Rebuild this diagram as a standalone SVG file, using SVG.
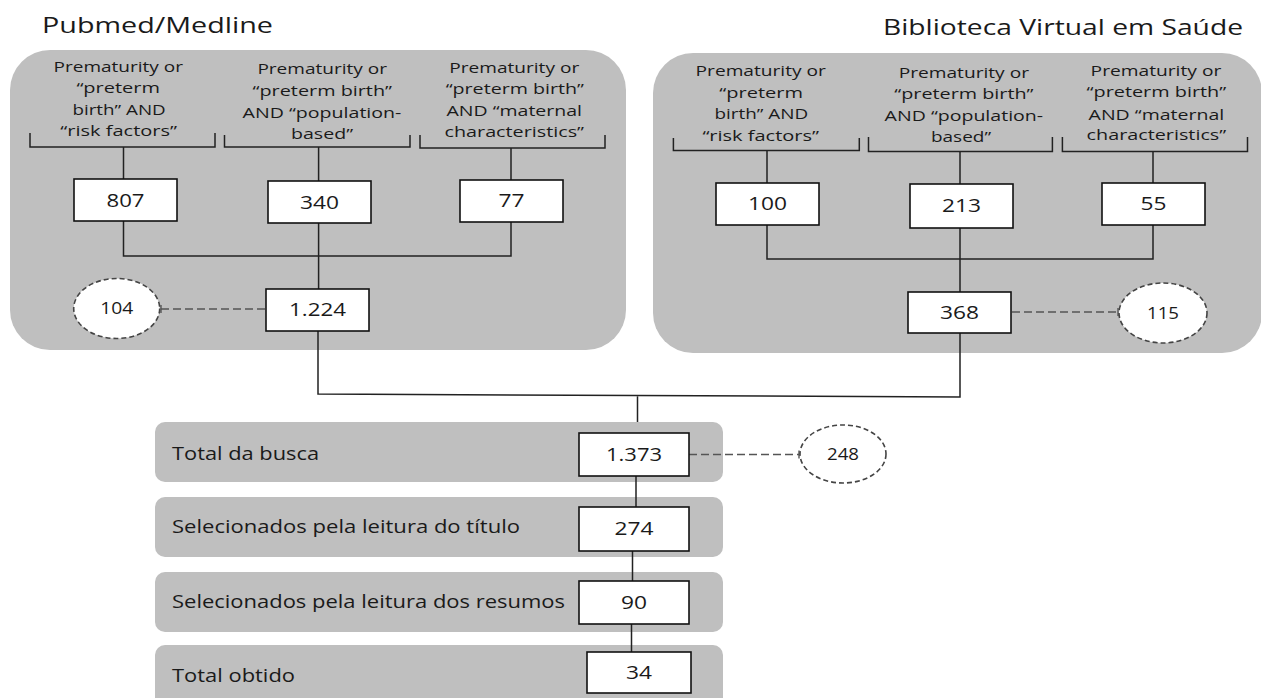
<svg xmlns="http://www.w3.org/2000/svg" width="1261" height="698" viewBox="0 0 1261 698">
<style>
text{font-family:"Open Sans","DejaVu Sans",sans-serif;fill:#1a1a1a}
.title{font-size:22px}
.q{font-size:14px}
.bar{font-size:18px}
.num{font-size:18.5px;text-anchor:middle}
.enum{font-size:15.5px;text-anchor:middle}
.panel{fill:#bfbfbf}
.barbg{fill:#bfbfbf}
.box{fill:#fff;stroke:#111;stroke-width:1.6}
.ell{fill:#fff;stroke:#444;stroke-width:1.6;stroke-dasharray:5 3}
.ln{fill:none;stroke:#222;stroke-width:1.5}
.dash{fill:none;stroke:#555;stroke-width:1.6;stroke-dasharray:8 4}
.tick{stroke:#555;stroke-width:1.4}
</style>
<rect width="1261" height="698" fill="#fff"/>

<g id="title-pubmed"><text class="title" x="42" y="33" textLength="231" lengthAdjust="spacingAndGlyphs">Pubmed/Medline</text></g>
<g id="title-bvs"><text class="title" x="883" y="35" textLength="360" lengthAdjust="spacingAndGlyphs">Biblioteca Virtual em Saúde</text></g>

<g id="panel-pubmed"><rect class="panel" x="10" y="50" width="616" height="300" rx="40"/></g>
<g id="panel-bvs"><rect class="panel" x="653" y="53" width="609" height="300" rx="40"/></g>

<g id="bar-total-busca"><rect class="barbg" x="155" y="422" width="568" height="60" rx="10"/><text class="bar" x="172" y="460" textLength="147" lengthAdjust="spacingAndGlyphs">Total da busca</text></g>
<g id="bar-titulo"><rect class="barbg" x="155" y="497" width="568" height="60" rx="10"/><text class="bar" x="172" y="533" textLength="348" lengthAdjust="spacingAndGlyphs">Selecionados pela leitura do título</text></g>
<g id="bar-resumos"><rect class="barbg" x="155" y="572" width="568" height="60" rx="10"/><text class="bar" x="172" y="608" textLength="393" lengthAdjust="spacingAndGlyphs">Selecionados pela leitura dos resumos</text></g>
<g id="bar-obtido"><rect class="barbg" x="155" y="645" width="568" height="70" rx="10"/><text class="bar" x="172" y="682" textLength="123" lengthAdjust="spacingAndGlyphs">Total obtido</text></g>

<g id="connectors">
  <!-- left brackets -->
  <path class="ln" d="M30 133V147H215V133M123.5 147V179"/>
  <path class="ln" d="M224.5 135V147H410V135M318.6 147V181"/>
  <path class="ln" d="M420 135V148H605V135M511 148V180"/>
  <!-- right brackets -->
  <path class="ln" d="M673.4 138V150.5H859.3V138M767 150.5V183"/>
  <path class="ln" d="M868.5 137V151.5H1052.4V137M960 151.5V184"/>
  <path class="ln" d="M1062.4 137V151.5H1247.5V137M1153 151.5V183"/>
  <!-- left merge -->
  <path class="ln" d="M123.5 221V256H511V222M318.6 223V289"/>
  <!-- right merge -->
  <path class="ln" d="M767 225V259H1153V225M960 228V292"/>
  <!-- to total -->
  <path class="ln" d="M318 331V394L960 397V333M637.5 395.5V422"/>
  <path class="ln" d="M636 476V507M632.5 551V581M631.5 624V652"/>
  <!-- dashed exclusions -->
  <path class="dash" d="M161 309H265"/>
  <path class="tick" d="M161 305V313"/>
  <path class="dash" d="M1012 312H1118"/>
  <path class="tick" d="M1118 308V316"/>
  <path class="dash" d="M689 454.5H799"/>
  <path class="tick" d="M799 450.5V458.5"/>
</g>

<g id="q-pm-1">
  <text class="q" x="53.5" y="72" textLength="129.5" lengthAdjust="spacingAndGlyphs">Prematurity or</text>
  <text class="q" x="76.4" y="93" textLength="83.6" lengthAdjust="spacingAndGlyphs">“preterm</text>
  <text class="q" x="72.4" y="115" textLength="93.3" lengthAdjust="spacingAndGlyphs">birth” AND</text>
  <text class="q" x="60.3" y="136" textLength="116.7" lengthAdjust="spacingAndGlyphs">“risk factors”</text>
</g>
<g id="q-pm-2">
  <text class="q" x="257.4" y="74" textLength="129.6" lengthAdjust="spacingAndGlyphs">Prematurity or</text>
  <text class="q" x="252.6" y="95.5" textLength="139.4" lengthAdjust="spacingAndGlyphs">“preterm birth”</text>
  <text class="q" x="242.6" y="117.5" textLength="158.8" lengthAdjust="spacingAndGlyphs">AND “population-</text>
  <text class="q" x="291" y="139" textLength="62" lengthAdjust="spacingAndGlyphs">based”</text>
</g>
<g id="q-pm-3">
  <text class="q" x="449.3" y="72.5" textLength="129.9" lengthAdjust="spacingAndGlyphs">Prematurity or</text>
  <text class="q" x="445.7" y="94" textLength="138.3" lengthAdjust="spacingAndGlyphs">“preterm birth”</text>
  <text class="q" x="446.5" y="115.5" textLength="135.5" lengthAdjust="spacingAndGlyphs">AND “maternal</text>
  <text class="q" x="444.5" y="137" textLength="139.5" lengthAdjust="spacingAndGlyphs">characteristics”</text>
</g>
<g id="q-bvs-1">
  <text class="q" x="695.6" y="76" textLength="130.3" lengthAdjust="spacingAndGlyphs">Prematurity or</text>
  <text class="q" x="719.3" y="97.5" textLength="83.7" lengthAdjust="spacingAndGlyphs">“preterm</text>
  <text class="q" x="714.5" y="119" textLength="93.7" lengthAdjust="spacingAndGlyphs">birth” AND</text>
  <text class="q" x="702.4" y="141" textLength="116.6" lengthAdjust="spacingAndGlyphs">“risk factors”</text>
</g>
<g id="q-bvs-2">
  <text class="q" x="898.7" y="77.5" textLength="130.3" lengthAdjust="spacingAndGlyphs">Prematurity or</text>
  <text class="q" x="894.3" y="99" textLength="139.2" lengthAdjust="spacingAndGlyphs">“preterm birth”</text>
  <text class="q" x="884.6" y="121" textLength="158.5" lengthAdjust="spacingAndGlyphs">AND “population-</text>
  <text class="q" x="931" y="142" textLength="60" lengthAdjust="spacingAndGlyphs">based”</text>
</g>
<g id="q-bvs-3">
  <text class="q" x="1090.6" y="75.5" textLength="130.7" lengthAdjust="spacingAndGlyphs">Prematurity or</text>
  <text class="q" x="1086.6" y="97" textLength="139.6" lengthAdjust="spacingAndGlyphs">“preterm birth”</text>
  <text class="q" x="1088.6" y="119.5" textLength="135.6" lengthAdjust="spacingAndGlyphs">AND “maternal</text>
  <text class="q" x="1086.6" y="140" textLength="139.6" lengthAdjust="spacingAndGlyphs">characteristics”</text>
</g>

<g id="n-807"><rect class="box" x="74" y="179" width="103" height="42"/><text class="num" x="125.5" y="207" textLength="38" lengthAdjust="spacingAndGlyphs">807</text></g>
<g id="n-340"><rect class="box" x="268" y="181" width="103" height="42"/><text class="num" x="319.5" y="208.5" textLength="39" lengthAdjust="spacingAndGlyphs">340</text></g>
<g id="n-77"><rect class="box" x="460" y="180" width="103" height="42"/><text class="num" x="511.5" y="207" textLength="26" lengthAdjust="spacingAndGlyphs">77</text></g>
<g id="n-1224"><rect class="box" x="266" y="289" width="103" height="42"/><text class="num" x="317.5" y="316" textLength="57" lengthAdjust="spacingAndGlyphs">1.224</text></g>
<g id="e-104"><ellipse class="ell" cx="116.7" cy="308.5" rx="43" ry="30"/><text class="enum" x="116.7" y="314" textLength="33" lengthAdjust="spacingAndGlyphs">104</text></g>

<g id="n-100"><rect class="box" x="716" y="183" width="103" height="42"/><text class="num" x="767.5" y="210" textLength="39" lengthAdjust="spacingAndGlyphs">100</text></g>
<g id="n-213"><rect class="box" x="910" y="184" width="103" height="44"/><text class="num" x="961.5" y="212" textLength="39" lengthAdjust="spacingAndGlyphs">213</text></g>
<g id="n-55"><rect class="box" x="1102" y="183" width="103" height="42"/><text class="num" x="1153.5" y="210" textLength="26" lengthAdjust="spacingAndGlyphs">55</text></g>
<g id="n-368"><rect class="box" x="908" y="292" width="103" height="41"/><text class="num" x="959.5" y="319" textLength="39" lengthAdjust="spacingAndGlyphs">368</text></g>
<g id="e-115"><ellipse class="ell" cx="1163" cy="313" rx="44" ry="30"/><text class="enum" x="1163" y="319" textLength="32" lengthAdjust="spacingAndGlyphs">115</text></g>

<g id="n-1373"><rect class="box" x="579" y="433" width="110" height="43"/><text class="num" x="634" y="461" textLength="56" lengthAdjust="spacingAndGlyphs">1.373</text></g>
<g id="e-248"><ellipse class="ell" cx="843" cy="454" rx="43" ry="29"/><text class="enum" x="843" y="460" textLength="32" lengthAdjust="spacingAndGlyphs">248</text></g>
<g id="n-274"><rect class="box" x="579" y="507" width="110" height="44"/><text class="num" x="634" y="535" textLength="39" lengthAdjust="spacingAndGlyphs">274</text></g>
<g id="n-90"><rect class="box" x="579" y="581" width="110" height="43"/><text class="num" x="634" y="608.5" textLength="26" lengthAdjust="spacingAndGlyphs">90</text></g>
<g id="n-34"><rect class="box" x="587" y="652" width="104" height="41"/><text class="num" x="639" y="678.5" textLength="26" lengthAdjust="spacingAndGlyphs">34</text></g>
</svg>
